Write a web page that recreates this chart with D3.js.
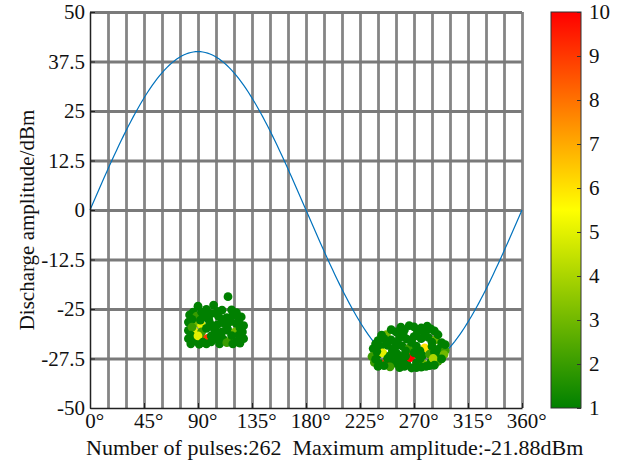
<!DOCTYPE html>
<html>
<head>
<meta charset="utf-8">
<script src="https://cdn.jsdelivr.net/npm/d3@7"></script>
<style>
  html, body { margin: 0; padding: 0; background: #fff; }
  svg { display: block; font-family: "Liberation Serif", "Times New Roman", serif; }
</style>
</head>
<body>
<svg id="chart" width="627" height="466"></svg>
<script>
// Phase-resolved partial discharge pattern: phase (deg), amplitude (dBm), pulse count
const xTickValues = [0, 45, 90, 135, 180, 225, 270, 315, 360];
const yTickValues = [50, 37.5, 25, 12.5, 0, -12.5, -25, -37.5, -50];
const yTickLabels = ["50", "37.5", "25", "12.5", "0", "-12.5", "-25", "-27.5", "-50"];
const colorTicks = [1, 2, 3, 4, 5, 6, 7, 8, 9, 10];

// reference sine wave amplitude and its sampled phases
const sineAmplitude = 40;
const sinePhases = d3.range(0, 361, 2);

// cluster around the positive half-cycle
const clusterA = [
  [115, -21.9, 1], [90, -24.3, 1], [97, -25.1, 1], [103, -24.0, 1], [110, -25.3, 1],
  [118, -25.2, 1], [86, -25.8, 1],
  [83, -26.5, 1], [89, -26.8, 2], [96, -27.0, 1], [101, -26.2, 1], [107, -26.8, 1],
  [114, -27.2, 1], [119, -26.6, 1], [126, -27.0, 1],
  [82, -28.3, 1], [88, -28.6, 3], [93, -29.1, 5], [100, -28.6, 1], [106, -29.0, 1],
  [111, -28.5, 1], [117, -28.2, 1], [122, -28.7, 1], [128, -29.2, 1],
  [82, -30.4, 1], [87, -30.8, 5], [93, -30.8, 2], [104, -31.4, 4], [104, -30.4, 1],
  [110, -30.8, 1], [115, -30.4, 1], [121, -30.8, 3], [127, -30.8, 1],
  [82, -32.5, 1], [87, -33.0, 1], [93, -32.5, 2], [98, -32.4, 9], [105, -32.5, 1],
  [111, -32.6, 1], [117, -33.0, 3], [122, -33.3, 1], [128, -32.5, 1],
  [84, -33.8, 1], [91, -33.9, 1], [97, -33.8, 1], [108, -33.8, 1], [114, -33.5, 2],
  [93, -25.8, 1], [106, -25.6, 1], [122, -25.9, 1],
  [85, -27.6, 1], [92, -27.8, 1], [99, -27.7, 1], [110, -27.6, 1], [124, -27.9, 1],
  [85, -29.6, 2], [97, -29.9, 1], [103, -29.7, 1], [114, -29.6, 1], [125, -29.8, 1],
  [84, -31.6, 1], [90, -31.8, 5], [101, -31.8, 1], [107, -31.6, 1], [118, -31.7, 1],
  [124, -31.6, 1],
  [94, -33.4, 1], [101, -33.3, 1], [119, -33.8, 1], [125, -33.6, 1]
];

// cluster around the negative half-cycle
const clusterB = [
  [247, -31.5, 3], [255, -30.8, 1], [262, -30.3, 1], [270, -29.5, 1], [276, -29.8, 1],
  [281, -29.3, 1], [287, -30.5, 1],
  [240, -33.0, 1], [245, -32.5, 1], [251, -32.8, 1], [258, -32.3, 1], [264, -32.6, 1],
  [270, -32.0, 1], [276, -32.5, 1], [282, -32.2, 1], [288, -32.8, 3], [293, -33.5, 1],
  [236, -35.0, 1], [242, -34.5, 1], [248, -34.2, 1], [254, -34.8, 1], [260, -34.3, 1],
  [266, -34.8, 2], [272, -34.4, 1], [279, -34.8, 6], [285, -34.5, 1], [291, -35.0, 1],
  [296, -35.5, 2],
  [235, -37.0, 2], [240, -36.5, 1], [244, -36.1, 5], [250, -36.8, 1], [256, -36.3, 1],
  [261, -36.9, 1], [266, -36.6, 3], [272, -36.3, 1], [277, -36.8, 1], [283, -36.4, 2],
  [289, -36.8, 1], [295, -36.5, 3],
  [237, -38.5, 2], [242, -38.8, 1], [247, -38.4, 9], [253, -38.7, 1], [259, -38.3, 1],
  [264, -38.8, 1], [267, -37.3, 10], [272, -38.6, 1], [278, -38.9, 3], [284, -38.5, 1],
  [290, -38.2, 2],
  [240, -39.5, 1], [250, -39.6, 2], [258, -39.8, 1], [268, -39.9, 1], [276, -39.7, 1],
  [283, -39.3, 1],
  [251, -30.2, 1], [259, -29.6, 1], [266, -29.2, 1], [284, -30.0, 1],
  [243, -31.6, 1], [261, -31.3, 1], [273, -30.8, 1], [279, -31.0, 1], [290, -31.5, 1],
  [238, -33.8, 1], [247, -33.3, 1], [255, -33.5, 1], [268, -33.4, 1], [285, -33.4, 1],
  [296, -34.0, 1],
  [239, -35.7, 1], [252, -35.5, 1], [263, -35.6, 1], [275, -35.6, 1], [287, -35.8, 1],
  [238, -37.7, 1], [248, -37.5, 1], [256, -37.6, 1], [275, -37.6, 1], [286, -37.5, 4],
  [293, -37.6, 1], [263, -36.9, 1], [270, -36.0, 1],
  [245, -39.3, 1], [262, -39.5, 1], [272, -39.8, 1], [280, -39.5, 1], [287, -39.2, 1]
];

const pulseCount = 262;
const maxAmplitude = -21.88;

const svg = d3.select("#chart");
const plot = { left: 90, right: 522, top: 12, bottom: 408 };
const bar = { left: 551, right: 581 };
const fontSize = 21;

const x = d3.scaleLinear().domain([0, 360]).range([plot.left, plot.right]);
const y = d3.scaleLinear().domain([-50, 50]).range([plot.bottom, plot.top]);
const color = d3.scaleLinear().domain([1, 5.5, 10]).range(["#008000", "#ffff00", "#ff0000"]).clamp(true);
const cy = d3.scaleLinear().domain([1, 10]).range([plot.bottom, plot.top]);

// grid
const vGrid = d3.range(15, 361, 15);
svg.append("g")
  .attr("transform", `translate(0,${plot.bottom})`)
  .call(d3.axisBottom(x).tickValues(vGrid).tickSize(-(plot.bottom - plot.top)).tickFormat(""))
  .call(g => g.select(".domain").remove())
  .call(g => g.selectAll("line").attr("stroke", "#858585").attr("stroke-width", 2.8));
svg.append("g")
  .attr("transform", `translate(${plot.left},0)`)
  .call(d3.axisLeft(y).tickValues(yTickValues.filter(v => v > -50)).tickSize(-(plot.right - plot.left)).tickFormat(""))
  .call(g => g.select(".domain").remove())
  .call(g => g.selectAll("line").attr("stroke", "#7a7a7a").attr("stroke-width", 2.8));

// sine reference
const line = d3.line()
  .x(d => x(d))
  .y(d => y(sineAmplitude * Math.sin(d * Math.PI / 180)));
svg.append("path")
  .datum(sinePhases)
  .attr("d", line)
  .attr("fill", "none")
  .attr("stroke", "#0072BD")
  .attr("stroke-width", 1.2);

// pulses
const pulses = clusterA.concat(clusterB);
svg.append("g").selectAll("circle")
  .data(pulses)
  .join("circle")
  .attr("cx", d => x(d[0]))
  .attr("cy", d => y(d[1]))
  .attr("r", 4.4)
  .attr("fill", d => color(d[2]));

// axes
const yAxis = svg.append("g")
  .attr("transform", `translate(${plot.left},0)`)
  .call(d3.axisLeft(y).tickValues(yTickValues).tickSizeInner(-5).tickSizeOuter(0).tickPadding(5)
    .tickFormat((d, i) => yTickLabels[i]));
yAxis.select(".domain").attr("stroke", "#222").attr("stroke-width", 1.5);
yAxis.selectAll("line").attr("stroke", "#222");
yAxis.selectAll("text").attr("font-size", fontSize).attr("font-family", "Liberation Serif").attr("fill", "#111");

const xAxis = svg.append("g")
  .attr("transform", `translate(0,${plot.bottom})`)
  .call(d3.axisBottom(x).tickValues(xTickValues).tickSizeInner(-5).tickSizeOuter(0).tickPadding(5)
    .tickFormat(d => d));
xAxis.select(".domain").attr("stroke", "#222").attr("stroke-width", 1.5);
xAxis.selectAll("line").attr("stroke", "#222");
xAxis.selectAll("text")
  .attr("font-size", fontSize).attr("font-family", "Liberation Serif").attr("fill", "#111")
  .attr("text-anchor", "start")
  .each(function () {
    const w = this.getComputedTextLength();
    d3.select(this).attr("x", -w / 2);
    d3.select(this).append("tspan").text("°");
  });

// axis title
svg.append("text")
  .attr("transform", `translate(34,220) rotate(-90)`)
  .attr("text-anchor", "middle")
  .attr("font-size", fontSize)
  .attr("fill", "#111")
  .text("Discharge amplitude/dBm");

// summary line
svg.append("text")
  .attr("x", 86).attr("y", 455)
  .attr("font-size", 22)
  .attr("fill", "#111")
  .attr("xml:space", "preserve")
  .text(`Number of pulses:${pulseCount}  Maximum amplitude:${maxAmplitude}dBm`);

// colorbar
const defs = svg.append("defs");
const grad = defs.append("linearGradient")
  .attr("id", "cbar").attr("x1", 0).attr("y1", 1).attr("x2", 0).attr("y2", 0);
grad.selectAll("stop")
  .data(color.domain())
  .join("stop")
  .attr("offset", d => (d - 1) / 9)
  .attr("stop-color", d => color(d));
svg.append("rect")
  .attr("x", bar.left).attr("y", plot.top)
  .attr("width", bar.right - bar.left).attr("height", plot.bottom - plot.top)
  .attr("fill", "url(#cbar)")
  .attr("stroke", "#333").attr("stroke-width", 1);
const cAxis = svg.append("g")
  .attr("transform", `translate(${bar.right},0)`)
  .call(d3.axisRight(cy).tickValues(colorTicks).tickSizeInner(-4).tickSizeOuter(0).tickPadding(8));
cAxis.select(".domain").remove();
cAxis.selectAll("line").attr("stroke", "#333");
cAxis.selectAll("text").attr("font-size", fontSize).attr("font-family", "Liberation Serif").attr("fill", "#111");
</script>
</body>
</html>
